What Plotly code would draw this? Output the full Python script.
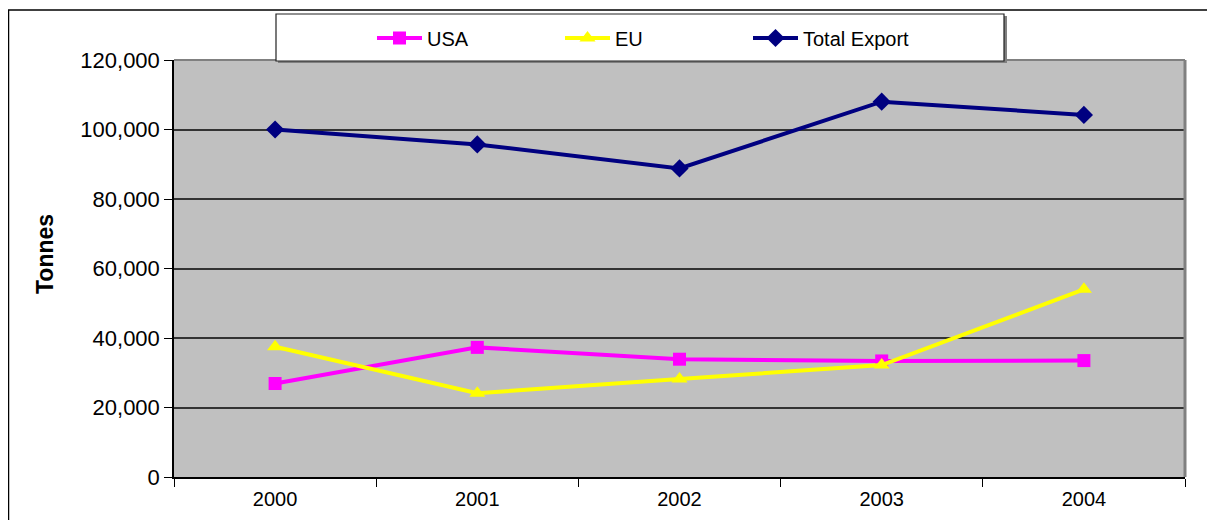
import plotly.graph_objects as go

years = ["2000", "2001", "2002", "2003", "2004"]
usa = [26900, 37300, 33900, 33400, 33500]
eu = [37500, 24100, 28200, 32200, 54000]
total = [100000, 95700, 88800, 108000, 104200]

y_ticks = [0, 20000, 40000, 60000, 80000, 100000, 120000]

# page body has an 8px margin; work in screen coordinates and convert
OFF = 8
W, H = 1215 - OFF, 520 - OFF
L, R, T, B = 174 - OFF, 30, 60 - OFF, 43
pw, ph = W - L - R, H - T - B

def px(sx):
    return (sx - OFF - L) / pw

def py(sy):
    return (H - B - (sy - OFF)) / ph

FONT = "Liberation Sans, Arial, sans-serif"

fig = go.Figure()
fig.add_trace(go.Scatter(x=years, y=usa, name="USA", mode="lines+markers",
                         line=dict(color="#FF00FF", width=4),
                         marker=dict(symbol="square", size=13, color="#FF00FF")))
fig.add_trace(go.Scatter(x=years, y=eu, name="EU", mode="lines+markers",
                         line=dict(color="#FFFF00", width=4),
                         marker=dict(symbol="triangle-up", size=14, color="#FFFF00")))
fig.add_trace(go.Scatter(x=years, y=total, name="Total Export", mode="lines+markers",
                         line=dict(color="#000080", width=4),
                         marker=dict(symbol="diamond", size=14, color="#000080")))

shapes = [
    # outer frame (top and left)
    dict(type="line", xref="paper", yref="paper", x0=px(8), x1=px(1240), y0=py(10), y1=py(10),
         line=dict(color="black", width=1.5), layer="above"),
    dict(type="line", xref="paper", yref="paper", x0=px(8.5), x1=px(8.5), y0=py(10), y1=py(540),
         line=dict(color="black", width=1.5), layer="above"),
    # plot area right / top edges
    dict(type="line", xref="paper", yref="paper", x0=1, x1=1, y0=0, y1=1,
         line=dict(color="#808080", width=3), layer="above"),
    dict(type="line", xref="paper", yref="paper", x0=0, x1=1, y0=1, y1=1,
         line=dict(color="#808080", width=2), layer="above"),
    # legend box shadow + box
    dict(type="rect", xref="paper", yref="paper", x0=px(278), x1=px(1007), y0=py(63), y1=py(16),
         fillcolor="#808080", line=dict(width=0), layer="above"),
    dict(type="rect", xref="paper", yref="paper", x0=px(276), x1=px(1004), y0=py(61), y1=py(14),
         fillcolor="white", line=dict(color="#222222", width=1.2), layer="above"),
]

annotations = [
    dict(text="<b>Tonnes</b>", xref="paper", yref="paper", x=px(45), y=py(254),
         xanchor="center", yanchor="middle", textangle=-90, showarrow=False,
         font=dict(family=FONT, size=23, color="black")),
]

fig.update_layout(
    width=W, height=H,
    margin=dict(l=L, r=R, t=T, b=B, autoexpand=False),
    paper_bgcolor="white",
    plot_bgcolor="#C0C0C0",
    font=dict(family=FONT, color="black", size=18),
    showlegend=True,
    legend=dict(orientation="h", x=px(372), xanchor="left", y=py(38), yanchor="middle",
                bgcolor="rgba(0,0,0,0)", borderwidth=0,
                font=dict(family=FONT, size=20, color="black"),
                entrywidth=128, entrywidthmode="pixels", itemwidth=45,
                traceorder="normal"),
    shapes=shapes,
    annotations=annotations,
    xaxis=dict(type="category", categoryorder="array", categoryarray=years,
               range=[-0.5, 4.5], tickson="boundaries", ticks="outside", ticklen=8,
               tickcolor="black", showline=True, linecolor="black", linewidth=1.5,
               showgrid=False, zeroline=False, ticklabelstandoff=3,
               tickfont=dict(family=FONT, size=20, color="black")),
    yaxis=dict(range=[0, 120000], tickvals=y_ticks, tickformat=",", ticks="outside",
               ticklen=8, tickcolor="black", showline=True, linecolor="black", linewidth=1.5,
               showgrid=True, gridcolor="#333333", gridwidth=1.5, zeroline=False,
               tickfont=dict(family=FONT, size=22, color="black")),
)

fig.write_html("out.html")
